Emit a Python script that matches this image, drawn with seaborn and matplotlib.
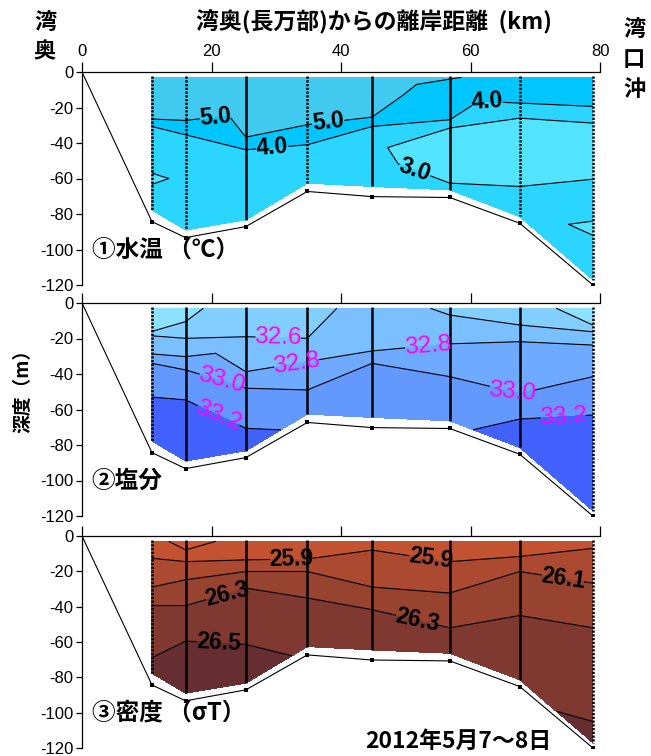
import numpy as np
import matplotlib
matplotlib.use("Agg")
import matplotlib.pyplot as plt
from matplotlib.tri import Triangulation
import seaborn as sns

# ---- CTD section data -------------------------------------------------------
# cast positions (km offshore from the bay head) and sea-floor depth (m)
station_km = [10.8, 16.0, 25.3, 34.8, 44.8, 56.8, 67.6, 78.9]
bottom_depth = [84.3, 93.3, 87.1, 67.3, 70.2, 70.7, 85.2, 120.0]

# water temperature profiles (depth m, deg C) per cast
temp_z = [
    [3, 15, 26.5, 30.7, 40, 50, 55, 60, 65, 77.7],
    [3, 15, 27.3, 35.4, 45, 60, 75, 89.0],
    [3, 20, 36.7, 43.8, 55, 70, 83.3],
    [3, 20, 29.7, 41.0, 52, 62.6],
    [3, 15, 25.4, 30.7, 42, 55, 64.5],
    [3, 4, 10, 26.9, 31.6, 45, 62.6, 66.4],
    [3, 17.5, 26.0, 45, 64.5, 81.4],
    [3, 19.4, 28.8, 45, 60.4, 75, 84, 88, 92, 105, 117],
]
temp_c = [
    [5.5, 5.3, 5.0, 4.0, 3.6, 3.3, 3.05, 2.9, 3.05, 3.3],
    [5.5, 5.3, 5.0, 4.0, 3.6, 3.1, 3.3, 3.4],
    [5.6, 5.4, 5.0, 4.0, 3.6, 3.4, 3.4],
    [5.5, 5.2, 5.0, 4.0, 3.5, 3.3],
    [5.4, 5.2, 5.0, 4.0, 3.1, 3.2, 3.3],
    [5.1, 5.0, 4.7, 4.0, 3.0, 2.6, 3.0, 3.1],
    [4.5, 4.0, 3.0, 2.5, 3.0, 3.2],
    [4.5, 4.0, 3.0, 2.5, 3.0, 3.1, 3.0, 2.9, 3.0, 3.1, 3.1],
]

# salinity profiles (depth m, psu)
sal_z = [
    [3, 16, 18.5, 28.7, 34, 53, 77.7],
    [3, 10.5, 19.9, 30.2, 37.7, 54.6, 89.0],
    [3, 19, 38.7, 48, 70.6, 83.3],
    [3, 19.9, 33, 49, 62.6],
    [3, 27, 34, 50, 64.5],
    [3, 6.8, 23, 41.5, 66.4],
    [3, 12.4, 21.8, 51, 65.4, 81.4],
    [3, 12.4, 16.2, 23.7, 41.5, 63.1, 117],
]
sal_psu = [
    [32.30, 32.4, 32.6, 32.8, 33.0, 33.2, 33.3],
    [32.35, 32.4, 32.6, 32.8, 33.0, 33.2, 33.3],
    [32.52, 32.6, 32.8, 33.0, 33.2, 33.28],
    [32.55, 32.6, 32.8, 33.0, 33.14],
    [32.66, 32.8, 33.0, 33.1, 33.15],
    [32.58, 32.6, 32.8, 33.0, 33.15],
    [32.50, 32.6, 32.8, 33.0, 33.2, 33.3],
    [32.30, 32.4, 32.6, 32.8, 33.0, 33.2, 33.35],
]

# density (sigma-t) profiles
dens_z = [
    [3, 12.6, 28.9, 39.4, 68.9, 77.7],
    [3, 7.9, 14.5, 24.8, 39.4, 59.5, 89.0],
    [3, 13.5, 20.1, 29.5, 61.4, 83.3],
    [3, 13, 20.1, 35.1, 62.6],
    [3, 8, 28.9, 41.7, 64.5],
    [3, 14.5, 32.3, 52, 66.4],
    [3, 11.6, 20.1, 45, 81.4],
    [3, 7, 26.7, 52, 100, 105, 117],
]
dens_sigma = [
    [25.80, 25.9, 26.1, 26.3, 26.5, 26.55],
    [25.60, 25.7, 25.9, 26.1, 26.3, 26.5, 26.62],
    [25.80, 25.9, 26.1, 26.3, 26.5, 26.62],
    [25.80, 25.9, 26.1, 26.3, 26.46],
    [25.82, 25.9, 26.1, 26.3, 26.42],
    [25.80, 25.9, 26.1, 26.3, 26.40],
    [25.80, 25.9, 26.1, 26.3, 26.45],
    [25.82, 25.9, 26.1, 26.3, 26.48, 26.5, 26.55],
]

temp_levels = [3.0, 4.0, 5.0]
sal_levels = [32.4, 32.6, 32.8, 33.0, 33.2]
dens_levels = [25.7, 25.9, 26.1, 26.3, 26.5]

x_ticks = [0, 20, 40, 60, 80]
y_ticks = [0, -20, -40, -60, -80, -100, -120]

# ---- styling ----------------------------------------------------------------
sns.set_theme(style="white")
plt.rcParams["font.family"] = ["Liberation Sans", "Noto Sans CJK JP", "DejaVu Sans"]
plt.rcParams["axes.unicode_minus"] = False
CJK = ["Noto Sans CJK JP", "DejaVu Sans"]

temp_colors = ["#52E4FF", "#2AD6FF", "#00C6FF", "#41CAF0"]
sal_colors = ["#8CE2FF", "#82CFFF", "#7ABFFF", "#6EAAFF", "#6398FF", "#4262FF"]
dens_colors = ["#CC5631", "#C25230", "#AB4931", "#984230", "#803931", "#662E31"]


def section_mesh(xs, zlists):
    """Strip-triangulate neighbouring casts so the mesh follows the cast depths."""
    px, pz, tris, starts = [], [], [], []
    for x, zs in zip(xs, zlists):
        starts.append(len(px))
        px += [x] * len(zs)
        pz += list(zs)
    for k in range(len(xs) - 1):
        za, zb = zlists[k], zlists[k + 1]
        a, b = starts[k], starts[k + 1]
        i = j = 0
        while i < len(za) - 1 or j < len(zb) - 1:
            step_a = j == len(zb) - 1 or (i < len(za) - 1 and za[i + 1] <= zb[j + 1])
            if step_a:
                tris.append((a + i, a + i + 1, b + j))
                i += 1
            else:
                tris.append((a + i, b + j + 1, b + j))
                j += 1
    return Triangulation(np.array(px, float), -np.array(pz, float), np.array(tris))


def style_axes(ax, show_xlabels):
    ax.set_xlim(0, 80)
    ax.set_ylim(-120, 0)
    ax.set_facecolor("white")
    for side in ("right", "bottom"):
        ax.spines[side].set_visible(False)
    for side in ("left", "top"):
        ax.spines[side].set_visible(True)
        ax.spines[side].set_color("black")
        ax.spines[side].set_linewidth(0.9)
    ax.xaxis.tick_top()
    ax.set_xticks(x_ticks)
    ax.set_xticklabels([str(v) for v in x_ticks] if show_xlabels else [])
    ax.set_yticks(y_ticks)
    ax.set_yticklabels([str(v) for v in y_ticks])
    ax.tick_params(axis="x", direction="out", length=7.5, width=0.9, pad=2,
                   labelsize=12, colors="black", top=True, bottom=False,
                   labeltop=show_xlabels, labelbottom=False)
    ax.tick_params(axis="y", direction="out", length=4.5, width=0.9, pad=1.5,
                   labelsize=12, colors="black", left=True)
    ax.set_xlabel("")
    ax.set_ylabel("")
    ax.grid(False)


def draw_section(ax, zlists, values, levels, fill_colors, label_spots, label_color,
                 label_size, label_weight, dotted):
    tri = section_mesh(station_km, zlists)
    v = np.concatenate([np.asarray(p, float) for p in values])
    bounds = [min(v.min(), levels[0]) - 1] + list(levels) + [max(v.max(), levels[-1]) + 1]
    ax.tricontourf(tri, v, levels=bounds, colors=fill_colors, zorder=1)
    cs = ax.tricontour(tri, v, levels=levels, colors="black", linewidths=0.8, zorder=2)
    texts = ax.clabel(cs, manual=label_spots, fmt="%.1f", fontsize=label_size,
                      colors=label_color, inline=True, inline_spacing=3)
    for t in texts:
        t.set_fontweight(label_weight)

    # CTD casts
    for k, (x, zs) in enumerate(zip(station_km, zlists)):
        ls = (0, (0.9, 0.6)) if k in dotted else "-"
        ax.plot([x, x], [-2, -zs[-1]], color="black", lw=1.8, ls=ls, zorder=3,
                solid_capstyle="butt")

    # sea floor
    floor = {"km": [0.0] + station_km, "depth": [0.0] + [-d for d in bottom_depth]}
    sns.lineplot(data=floor, x="km", y="depth", ax=ax, color="black", lw=0.8,
                 sort=False, estimator=None, zorder=4)
    sns.scatterplot(x=station_km, y=[-d for d in bottom_depth], ax=ax, color="black",
                    s=5, marker="s", linewidth=0, zorder=4)


fig = plt.figure(figsize=(6.51, 7.56), dpi=100)
left, width = 82 / 651, 518 / 651
ax1 = fig.add_axes([left, 471 / 756, width, 213 / 756])
ax2 = fig.add_axes([left, 240 / 756, width, 213 / 756])
ax3 = fig.add_axes([left, 8 / 756, width, 212 / 756])

draw_section(ax1, temp_z, temp_c, temp_levels, temp_colors,
             [(20.8, -31.0), (38.0, -27.8), (29.4, -43.5), (62.5, -21.0),
              (51.5, -54.5)],
             "black", 16.5, "bold", dotted=[0, 1, 3, 6, 7])
draw_section(ax2, sal_z, sal_psu, sal_levels, sal_colors,
             [(30.3, -19.2), (33.2, -36.0), (53.4, -25.6), (21.5, -44.5),
              (66.5, -49.0), (21.1, -63.0), (74.3, -64.0)],
             "#FF00FF", 17.5, "normal", dotted=[0, 7])
draw_section(ax3, dens_z, dens_sigma, dens_levels, dens_colors,
             [(32.3, -12.6), (53.9, -10.7), (74.3, -22.5), (22.5, -34.5),
              (51.8, -46.4), (21.1, -60.5)],
             "black", 16.5, "bold", dotted=[0, 7])

for ax, show in ((ax1, True), (ax2, False), (ax3, False)):
    style_axes(ax, show)

# panel captions
cap = dict(fontsize=17, fontweight="bold", family=CJK, ha="left", va="center",
           color="black", zorder=6)
ax1.text(1.5, -100, "①水温 （℃）", **cap)
ax2.text(1.5, -100, "②塩分", **cap)
ax3.text(1.5, -100, "③密度 （σT）", **cap)
ax3.text(43.8, -116, "2012年5月7～8日", fontsize=16.5, fontweight="bold", family=CJK,
         ha="left", va="center", color="black", zorder=6)

# headings around the frame
head = dict(fontweight="bold", family=CJK, ha="center", va="center", color="black")
fig.text(374 / 651, 1 - 22 / 756, "湾奥(長万部)からの離岸距離  (km)", fontsize=16.5, **head)
fig.text(45 / 651, 1 - 22 / 756, "湾", fontsize=16, **head)
fig.text(45 / 651, 1 - 52 / 756, "奥", fontsize=16, **head)
for ch, yc in (("湾", 29), ("口", 59), ("沖", 89)):
    fig.text(634 / 651, 1 - yc / 756, ch, fontsize=16, **head)
fig.text(23 / 651, 1 - 386 / 756, "深度（m）", fontsize=13.5, rotation=90, **head)

fig.savefig("out.png", dpi=100, facecolor="white")
